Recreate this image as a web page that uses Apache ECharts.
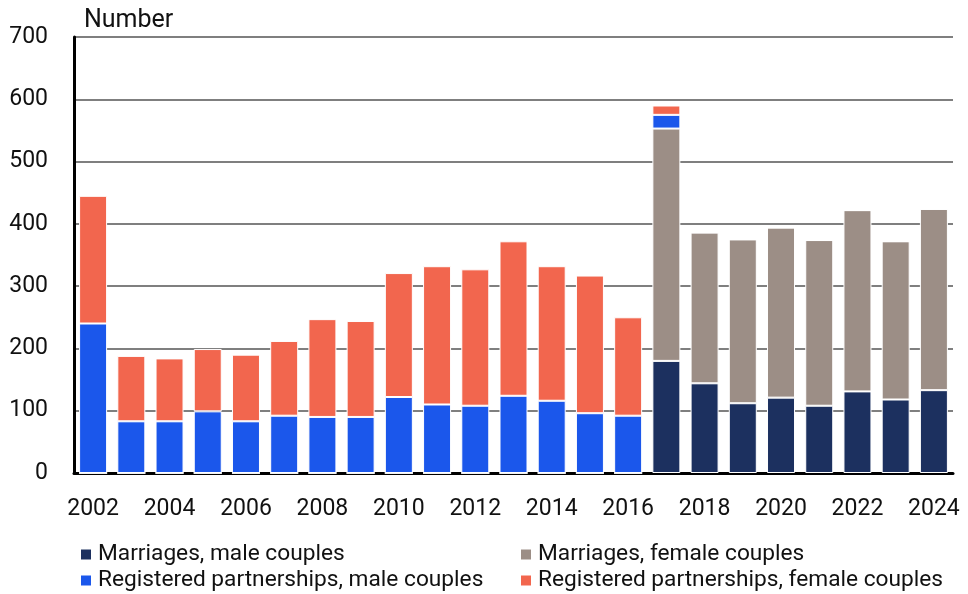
<!DOCTYPE html>
<html>
<head>
<meta charset="utf-8">
<script src="https://cdn.jsdelivr.net/npm/echarts@6/dist/echarts.min.js"></script>
<style>
  html, body { margin: 0; padding: 0; background: #fff; }
  #container { width: 968px; height: 594px; }
</style>
</head>
<body>
<div id="container"></div>
<script>
var years = ['2002','2003','2004','2005','2006','2007','2008','2009','2010','2011','2012',
             '2013','2014','2015','2016','2017','2018','2019','2020','2021','2022','2023','2024'];
// marriages started 2017
var marriagesMale   = [0,0,0,0,0,0,0,0,0,0,0,0,0,0,0,180,144,112,121,108,131,118,133];
var marriagesFemale = [0,0,0,0,0,0,0,0,0,0,0,0,0,0,0,373,242,263,273,266,291,254,291];
var partnersMale    = [240,83,83,99,83,92,90,90,122,110,108,124,116,96,92,22,0,0,0,0,0,0,0];
var partnersFemale  = [205,105,101,100,107,120,157,154,199,222,219,248,216,221,158,15,0,0,0,0,0,0,0];
var yTicks = [0,100,200,300,400,500,600,700];

var dom = document.getElementById("container");
var myChart = echarts.init(dom);
var font = 'Roboto';

function bar(name, data, color) {
    return {
        name: name,
        type: 'bar',
        stack: 'total',
        barWidth: 28,
        data: data,
        itemStyle: { color: color, borderColor: '#fff', borderWidth: 1 }
    };
}

// one legend per entry so the two columns line up like the original
function legendItem(name, left, top) {
    return {
        left: left, top: top, padding: 0,
        itemWidth: 12, itemHeight: 12, icon: 'rect',
        textStyle: { fontFamily: font, fontSize: 22.7, color: '#111', padding: [0, 0, 0, 1] },
        data: [name]
    };
}

var option = {
    animation: false,
    textStyle: { fontFamily: font },
    title: {
        text: 'Number',
        left: 79, top: 3,
        textStyle: { fontFamily: font, fontSize: 25, fontWeight: 'normal', color: '#111' }
    },
    legend: [
        legendItem('Marriages, male couples', 79, 543),
        legendItem('Registered partnerships, male couples', 79, 569),
        legendItem('Marriages, female couples', 519, 543),
        legendItem('Registered partnerships, female couples', 519, 569)
    ],
    grid: { left: 74, right: 15, top: 37, bottom: 121, containLabel: false },
    xAxis: {
        type: 'category',
        data: years,
        axisLine: { lineStyle: { color: '#000', width: 3 } },
        axisTick: { show: false },
        axisLabel: { interval: 1, fontSize: 23, color: '#111', margin: 25 }
    },
    yAxis: {
        type: 'value',
        min: 0, max: 700, interval: 100,
        axisLine: { show: true, lineStyle: { color: '#000', width: 3 } },
        axisLabel: {
            fontSize: 23, color: '#111', margin: 26,
            formatter: function (v) { return yTicks.indexOf(v) >= 0 ? String(v) : ''; }
        },
        splitLine: { lineStyle: { color: '#7f7f7f', width: 2 } }
    },
    series: [
        bar('Marriages, male couples', marriagesMale, '#1c305f'),
        bar('Marriages, female couples', marriagesFemale, '#9c8e86'),
        bar('Registered partnerships, male couples', partnersMale, '#1b57eb'),
        bar('Registered partnerships, female couples', partnersFemale, '#f2664e')
    ]
};

myChart.setOption(option);
</script>
</body>
</html>
